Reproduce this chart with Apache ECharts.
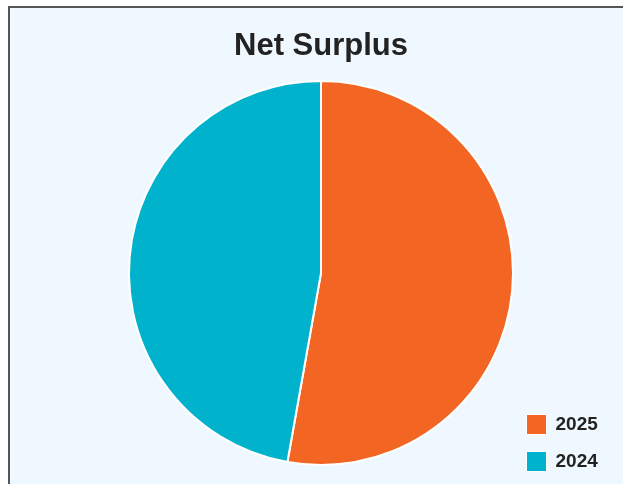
<!DOCTYPE html>
<html>
<head>
<meta charset="utf-8">
<script src="https://cdn.jsdelivr.net/npm/echarts@6/dist/echarts.min.js"></script>
<style>
  html, body { margin: 0; padding: 0; background: #fff; overflow: hidden; }
  #frame {
    position: absolute; left: 8px; top: 6px;
    width: 640px; height: 500px;
    border-left: 2px solid #555; border-top: 2px solid #555;
    background: #f0f8ff;
  }
  #main { width: 640px; height: 500px; }
</style>
</head>
<body>
<div id="frame"><div id="main"></div></div>
<script>
const years = ["2025", "2024"];
const surplus = [52.8, 47.2];
const colors = ["#f26522", "#00b2cc"];

const chart = echarts.init(document.getElementById("main"));
chart.setOption({
  backgroundColor: "transparent",
  title: {
    text: "Net Surplus",
    left: 311,
    top: 23,
    padding: 0,
    textAlign: "center",
    textStyle: { fontFamily: "Liberation Sans", fontWeight: "bold", fontSize: 31, color: "#222" }
  },
  legend: {
    orient: "vertical",
    left: 516,
    top: 406,
    padding: 0,
    itemWidth: 20,
    itemHeight: 20,
    itemGap: 16,
    icon: "rect",
    itemStyle: { borderWidth: 1 },
    textStyle: { fontFamily: "Liberation Sans", fontWeight: "bold", fontSize: 19, color: "#222", padding: [0, 0, 0, 4] },
    data: years
  },
  series: [{
    type: "pie",
    center: [311, 265],
    radius: 192,
    startAngle: 90,
    clockwise: true,
    label: { show: false },
    labelLine: { show: false },
    itemStyle: { borderColor: "#fff", borderWidth: 2 },
    emphasis: { disabled: true },
    data: years.map((y, i) => ({ name: y, value: surplus[i], itemStyle: { color: colors[i] } }))
  }]
});
</script>
</body>
</html>
